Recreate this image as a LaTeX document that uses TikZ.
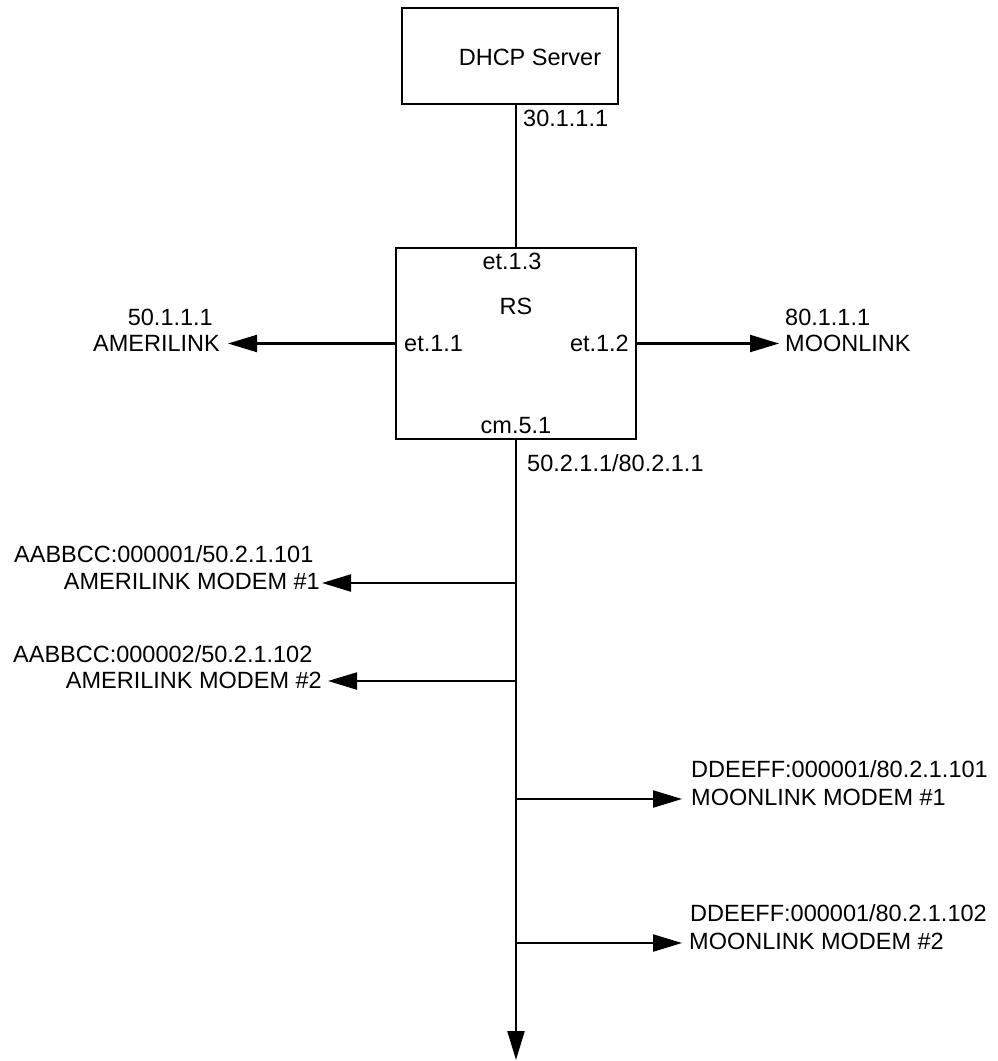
\documentclass[tikz,border=0pt]{standalone}
\usepackage{fontspec}
\setmainfont{Liberation Sans}
\usetikzlibrary{arrows.meta}
\begin{document}
\begin{tikzpicture}[x=1pt,y=-1pt,
  box/.style={draw=black,line width=2.2pt,inner sep=0pt},
  lbl/.style={inner sep=0pt,font=\fontsize{23.5}{27}\selectfont,text height=16.8pt,text depth=0pt},
  wire/.style={draw=black,line width=2.2pt},
  arr/.style={wire,-{Triangle[length=29pt,width=17pt]}}]
\useasboundingbox (0,0) rectangle (997,1061);
% boxes
\node[box,minimum width=216pt,minimum height=96pt] (dhcp) at (510,56) {};
\node[lbl] (dhcptxt) at (530,57) {DHCP Server};
\node[box,minimum width=240pt,minimum height=191pt] (rs) at (516,343.5) {};
\node[lbl] (rstxt) at (516,306) {RS};
% port labels
\node[lbl,anchor=west] (ip30) at (523,118) {30.1.1.1};
\node[lbl] (p13) at (512,261) {et.1.3};
\node[lbl,anchor=west] (p11) at (404,343) {et.1.1};
\node[lbl,anchor=east] (p12) at (629,343) {et.1.2};
\node[lbl] (p51) at (516,425) {cm.5.1};
\node[lbl,anchor=west] (ipcm) at (527,463) {50.2.1.1/80.2.1.1};
% connector DHCP - RS
\draw[wire] (rs.north |- dhcp.south) -- (rs.north);
% left/right uplinks
\coordinate (tipL) at (228,343.5);
\coordinate (tipR) at (779,343.5);
\draw[arr] (rs.west) -- (tipL);
\draw[arr] (rs.east) -- (tipR);
\node[lbl,anchor=east] (a50) at (213,317) {50.1.1.1};
\node[lbl,anchor=east] (amer) at (220,343) {AMERILINK};
\node[lbl,anchor=west] (a80) at (785,317) {80.1.1.1};
\node[lbl,anchor=west] (moon) at (785,343) {MOONLINK};
% bus
\coordinate (busend) at (516,1060);
\draw[arr] (rs.south) -- (busend);
\coordinate (b1) at (516,583);
\coordinate (b2) at (516,681);
\coordinate (b3) at (516,799);
\coordinate (b4) at (516,943);
\coordinate (t1) at (322,583);
\coordinate (t2) at (328,681);
\coordinate (t3) at (682,799);
\coordinate (t4) at (682,943);
\draw[arr] (b1) -- (t1);
\draw[arr] (b2) -- (t2);
\draw[arr] (b3) -- (t3);
\draw[arr] (b4) -- (t4);
% modem labels
\node[lbl,anchor=west] (m1a) at (14,554) {AABBCC:000001/50.2.1.101};
\node[lbl,anchor=east] (m1b) at (320,581) {AMERILINK MODEM \#1};
\node[lbl,anchor=west] (m2a) at (13,654) {AABBCC:000002/50.2.1.102};
\node[lbl,anchor=east] (m2b) at (322,680) {AMERILINK MODEM \#2};
\node[lbl,anchor=west] (m3a) at (691,769) {DDEEFF:000001/80.2.1.101};
\node[lbl,anchor=west] (m3b) at (691,797) {MOONLINK MODEM \#1};
\node[lbl,anchor=west] (m4a) at (690,913) {DDEEFF:000001/80.2.1.102};
\node[lbl,anchor=west] (m4b) at (689,941) {MOONLINK MODEM \#2};
\end{tikzpicture}
\end{document}
